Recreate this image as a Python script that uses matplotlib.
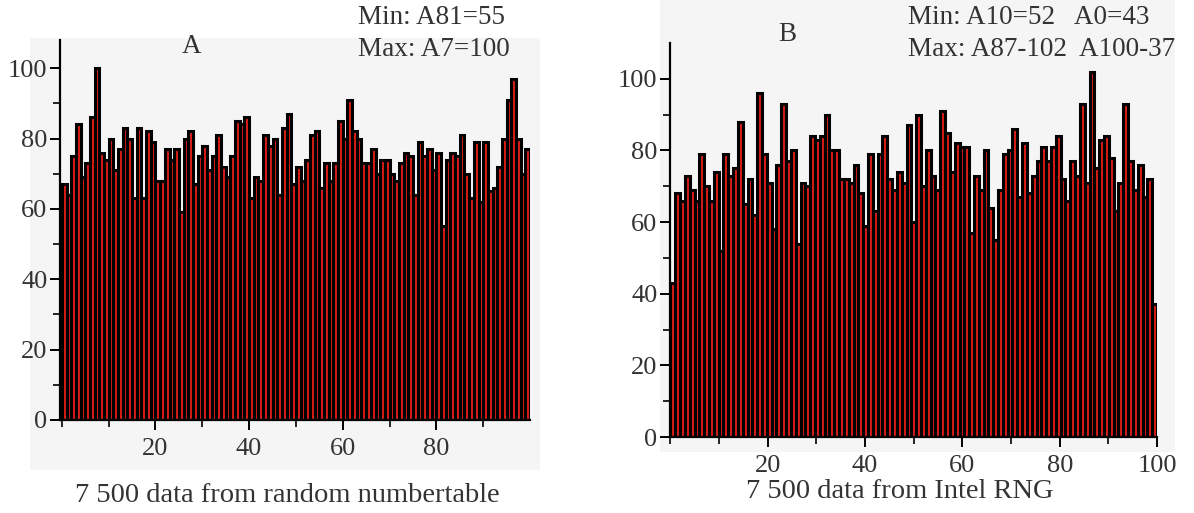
import matplotlib
matplotlib.use('Agg')
import matplotlib.pyplot as plt
import numpy as np
from matplotlib.patches import Rectangle

plt.rcParams['font.family'] = ['Liberation Serif', 'DejaVu Serif']

# counts per index, panel A (random number table, A0..A99)
counts_a = [67, 64, 75, 84, 69, 73, 86, 100, 76, 74,
            80, 71, 77, 83, 80, 63, 83, 63, 82, 79,
            68, 68, 77, 74, 77, 59, 80, 82, 67, 75,
            78, 71, 75, 81, 72, 69, 75, 85, 84, 86,
            63, 69, 68, 81, 78, 80, 64, 83, 87, 67,
            72, 68, 74, 81, 82, 66, 73, 68, 73, 85,
            80, 91, 82, 80, 73, 73, 77, 70, 74, 74,
            70, 68, 73, 76, 75, 64, 79, 75, 77, 71,
            76, 55, 74, 76, 75, 81, 70, 63, 79, 62,
            79, 65, 66, 72, 80, 91, 97, 80, 70, 77]

# counts per index, panel B (Intel RNG, A0..A100)
counts_b = [43, 68, 66, 73, 69, 66, 79, 70, 66, 74,
            52, 79, 73, 75, 88, 65, 72, 62, 96, 79,
            71, 58, 76, 93, 77, 80, 54, 71, 70, 84,
            83, 84, 90, 80, 80, 72, 72, 71, 76, 68,
            59, 79, 63, 79, 84, 72, 69, 74, 71, 87,
            60, 90, 70, 80, 73, 69, 91, 85, 74, 82,
            81, 81, 57, 73, 69, 80, 64, 55, 69, 79,
            80, 86, 67, 82, 68, 73, 77, 81, 77, 81,
            84, 72, 66, 77, 73, 93, 71, 102, 75, 83,
            84, 78, 63, 71, 93, 77, 69, 76, 67, 72, 37]

W, H = 1194, 513
fig = plt.figure(figsize=(W / 100, H / 100), dpi=100)
fig.patch.set_facecolor('white')

# light grey panel backgrounds
fig.patches.append(Rectangle((30 / W, 1 - 470 / H), 510 / W, 432 / H,
                             transform=fig.transFigure, facecolor='#f5f5f5',
                             edgecolor='none', zorder=-10))
fig.patches.append(Rectangle((660 / W, 1 - 452 / H), 515 / W, 452 / H,
                             transform=fig.transFigure, facecolor='#f5f5f5',
                             edgecolor='none', zorder=-10))


def px_axes(left, right, bottom, top):
    return fig.add_axes([left / W, 1 - bottom / H, (right - left) / W, (bottom - top) / H])


def style(ax, xmaj, xmin, ymax):
    ax.set_facecolor('none')
    for s in ['top', 'right']:
        ax.spines[s].set_visible(False)
    for s in ['left', 'bottom']:
        ax.spines[s].set_linewidth(1.6)
    ax.set_ylim(0, ymax)
    ax.set_yticks([0, 20, 40, 60, 80, 100])
    ax.set_yticks([10, 30, 50, 70, 90], minor=True)
    ax.set_xticks(xmaj)
    ax.set_xticks(xmin, minor=True)
    ax.tick_params(which='major', direction='out', length=7, width=1.4,
                   labelsize=19, labelcolor='#333333', pad=2)
    ax.tick_params(which='minor', direction='out', length=5, width=1.2)
    ax.tick_params(axis='x', which='major', pad=6)


bar_color = '#d81c16'

ax1 = px_axes(60, 530, 420, 40)
xa = np.arange(len(counts_a))
ax1.bar(xa, counts_a, width=1.0, align='edge', color=bar_color,
        edgecolor='black', linewidth=2.2)
ax1.set_xlim(-0.4, 100)
style(ax1, [20, 40, 60, 80], [0, 10, 30, 50, 70, 90], 108)

ax2 = px_axes(670, 1157, 437, 43)
wb = 100 / len(counts_b)
xb = np.arange(len(counts_b)) * wb
ax2.bar(xb, counts_b, width=wb, align='edge', color=bar_color,
        edgecolor='black', linewidth=2.2)
ax2.set_xlim(-0.1, 100)
style(ax2, [20, 40, 60, 80, 100], [0, 10, 30, 50, 70, 90], 110)

tcol = '#333333'
fs = 19.5
fig.text(192 / W, 1 - 47 / H, 'A', fontsize=fs, color=tcol, ha='center', va='center')
fig.text(358 / W, 1 - 17 / H, 'Min: A81=55', fontsize=fs, color=tcol, ha='left', va='center')
fig.text(358 / W, 1 - 50 / H, 'Max: A7=100', fontsize=fs, color=tcol, ha='left', va='center')
fig.text(787 / W, 1 - 35 / H, 'B', fontsize=fs, color=tcol, ha='center', va='center')
fig.text(908 / W, 1 - 17 / H, 'Min: A10=52   A0=43', fontsize=fs, color=tcol, ha='left', va='center')
fig.text(908 / W, 1 - 50 / H, 'Max: A87-102  A100-37', fontsize=fs, color=tcol, ha='left', va='center')
fig.text(287 / W, 1 - 496 / H, '7 500 data from random numbertable', fontsize=20.5, color=tcol,
         ha='center', va='center')
fig.text(900 / W, 1 - 491 / H, '7 500 data from Intel RNG', fontsize=20.5, color=tcol,
         ha='center', va='center')

fig.savefig('out.png', dpi=100)
